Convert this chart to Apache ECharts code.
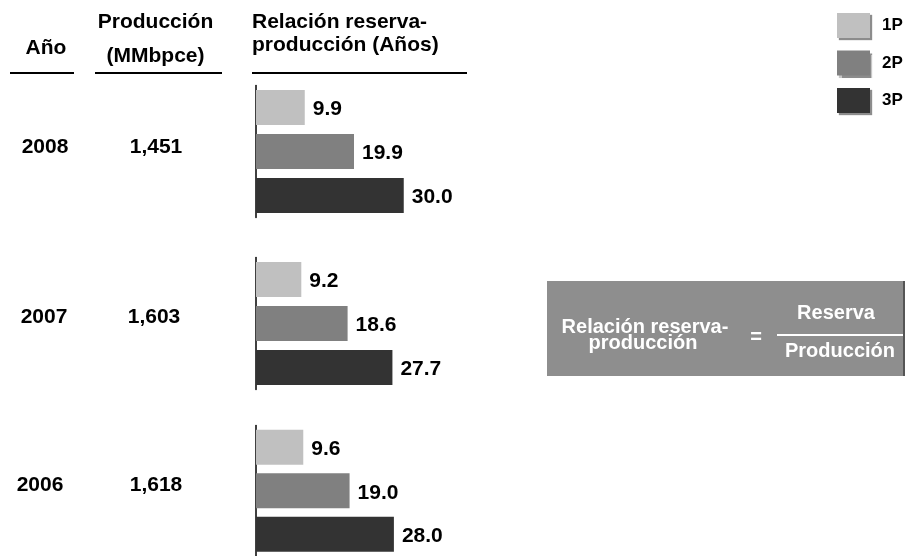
<!DOCTYPE html>
<html>
<head>
<meta charset="utf-8">
<script src="https://cdn.jsdelivr.net/npm/echarts@6/dist/echarts.min.js"></script>
<style>html,body{margin:0;padding:0;background:#fff}#c{width:915px;height:556px}</style>
</head>
<body>
<div id="c"></div>
<script>
const years = ['2008', '2007', '2006'];
const produccion = ['1,451', '1,603', '1,618'];
const categories = ['1P', '2P', '3P'];
const r1P = [9.9, 9.2, 9.6];
const r2P = [19.9, 18.6, 19.0];
const r3P = [30.0, 27.7, 28.0];

const FONT = '"Liberation Sans", Arial, Helvetica, sans-serif';
const colors = {'1P': '#c0c0c0', '2P': '#808080', '3P': '#333333'};
const gridTops = [85.5, 257.5, 425.5];
const yearPos = [[45, 147], [44, 317.5], [40, 485.5]];
const prodPos = [[156, 147], [154, 317.5], [156, 485.5]];

const chart = echarts.init(document.getElementById('c'), null, {renderer: 'canvas'});

const grid = [], xAxis = [], yAxis = [], series = [];
const seriesVals = {'1P': r1P, '2P': r2P, '3P': r3P};
years.forEach((y, i) => {
  grid.push({left: 256, width: 197, top: gridTops[i], height: 132});
  xAxis.push({gridIndex: i, type: 'value', min: 0, max: 40, show: false});
  yAxis.push({gridIndex: i, type: 'category', data: categories, inverse: true,
    axisLine: {show: true, lineStyle: {color: '#000', width: 1.5}},
    axisTick: {show: false}, axisLabel: {show: false}, splitLine: {show: false}});
  categories.forEach((cat, k) => {
    series.push({
      name: cat, type: 'bar', xAxisIndex: i, yAxisIndex: i, stack: 'g' + i,
      barWidth: 35, animation: false,
      itemStyle: {color: colors[cat]},
      data: categories.map((c, j) => j === k ? seriesVals[cat][i] : '-'),
      label: {show: true, position: 'right', distance: 8, offset: [0, 2],
        color: '#000', fontWeight: 'bold', fontSize: 21, fontFamily: FONT,
        formatter: p => Number(p.value).toFixed(1)}
    });
  });
});

const txt = (x, y, s, align, size, color) => ({
  type: 'text', x: x, y: y, z: 10,
  style: {text: s, fill: color || '#000', font: 'bold ' + (size || 21) + 'px ' + FONT,
    align: align || 'center', verticalAlign: 'middle'}
});
const line = (x1, x2, y, color, w) => ({
  type: 'line', z: 10, shape: {x1: x1, y1: y, x2: x2, y2: y},
  style: {stroke: color || '#000', lineWidth: w || 2}
});

const graphic = [
  txt(46, 48.5, 'Año'),
  txt(155.5, 22, 'Producción'),
  txt(155.5, 56, '(MMbpce)'),
  txt(252, 22.5, 'Relación reserva-', 'left'),
  txt(252, 45.5, 'producción (Años)', 'left'),
  line(10, 74, 73), line(95, 222, 73), line(252, 467, 73),
  {type: 'rect', z: 5, shape: {x: 547, y: 281, width: 356, height: 95},
    style: {fill: '#8e8e8e', shadowColor: '#555', shadowOffsetX: 2, shadowOffsetY: 0, shadowBlur: 0}},
  txt(645, 327, 'Relación reserva-', 'center', 20, '#fff'),
  txt(643, 343, 'producción', 'center', 20, '#fff'),
  txt(756, 337, '=', 'center', 20, '#fff'),
  txt(836, 313, 'Reserva', 'center', 20, '#fff'),
  line(777, 903, 335, '#fff', 2),
  txt(840, 351, 'Producción', 'center', 20, '#fff')
];
years.forEach((y, i) => {
  graphic.push(txt(yearPos[i][0], yearPos[i][1], y));
  graphic.push(txt(prodPos[i][0], prodPos[i][1], produccion[i]));
});

chart.setOption({
  animation: false,
  backgroundColor: '#fff',
  grid: grid, xAxis: xAxis, yAxis: yAxis, series: series,
  legend: {
    data: categories, orient: 'vertical', left: 837, top: 13, padding: 0,
    itemWidth: 33, itemHeight: 25, itemGap: 12.5, icon: 'rect', selectedMode: false,
    itemStyle: {shadowColor: 'rgba(0,0,0,0.45)', shadowOffsetX: 2, shadowOffsetY: 2, shadowBlur: 1},
    textStyle: {fontSize: 17, fontWeight: 'bold', color: '#000', fontFamily: FONT, padding: [0, 0, 0, 7]}
  },
  graphic: graphic
});
</script>
</body>
</html>
